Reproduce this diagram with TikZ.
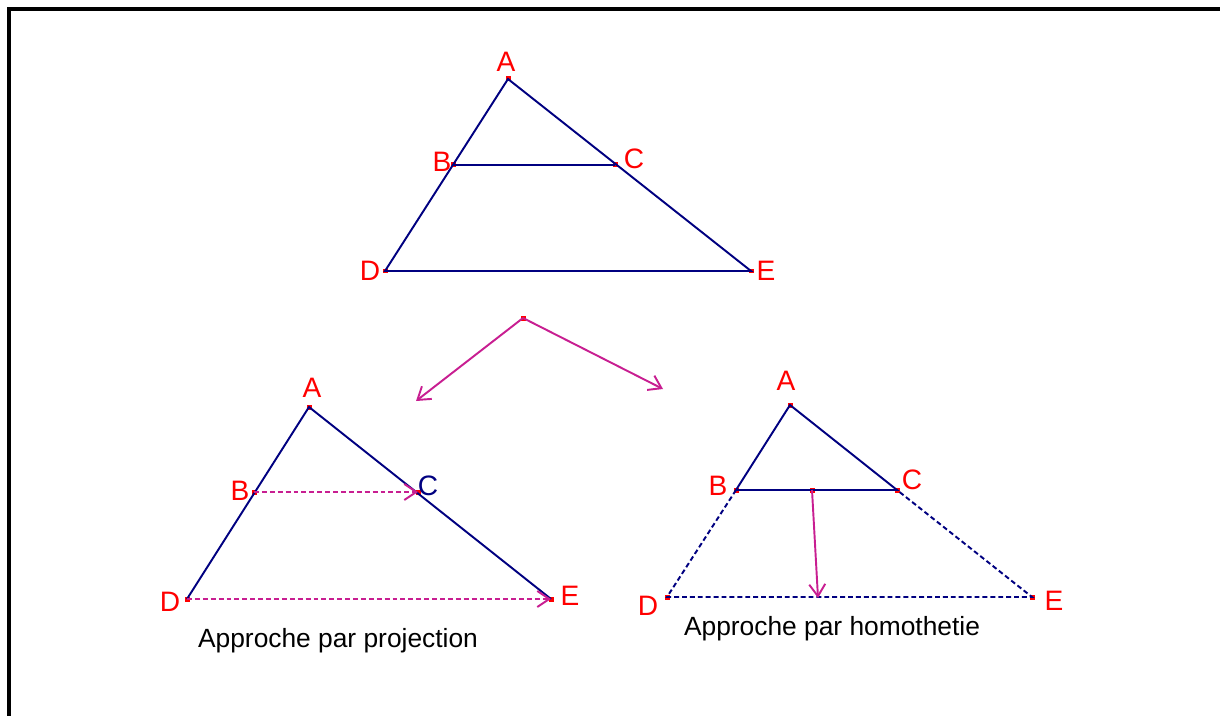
\documentclass[tikz,border=0pt]{standalone}
\usepackage{fontspec}
\setmainfont{Liberation Sans}
\usetikzlibrary{arrows.meta,positioning,calc}
\definecolor{segblue}{RGB}{0,0,128}
\definecolor{vecmag}{RGB}{200,30,145}
\definecolor{ptred}{RGB}{255,0,0}

\begin{document}
\begin{tikzpicture}[x=0.02cm,y=-0.02cm,
  pt/.style={fill=ptred, rectangle, inner sep=0pt, minimum size=0.1cm},
  lbl/.style={text=ptred, inner sep=0pt, font=\fontsize{16}{18}\selectfont},
  captxt/.style={inner sep=0pt, font=\fontsize{15}{17}\selectfont},
  seg/.style={draw=segblue, line width=1.1pt},
  segdash/.style={draw=segblue, line width=1.1pt, dash pattern=on 2.8pt off 1.7pt},
  vec/.style={draw=vecmag, line width=1.1pt, -{Straight Barb[length=2.4mm,width=3.2mm]}},
  vecdash/.style={vec, dash pattern=on 2.8pt off 1.7pt},
]
\useasboundingbox (0,0) rectangle (1220,716);
\draw[line width=2.3pt] (9,716) -- (9,9) -- (1220,9);

% triangle du haut
\node[pt] (A) at (508,79) {};
\node[pt] (B) at (453,165) {};
\node[pt] (C) at (615,165) {};
\node[pt] (D) at (385,271) {};
\node[pt] (E) at (751,271) {};
\draw[seg] (D.center) -- (A.center) -- (E.center) -- cycle;
\draw[seg] (B.center) -- (C.center);
\node[lbl] at (506,62) {A};
\node[lbl] at (442,162) {B};
\node[lbl] at (634,159) {C};
\node[lbl] at (370,271) {D};
\node[lbl] at (766,271) {E};

% les deux approches
\node[pt] (O) at (523,318) {};
\coordinate (Ol) at (416,401);
\coordinate (Or) at (663,389);
\draw[vec] (O.center) -- (Ol);
\draw[vec] (O.center) -- (Or);

% projection
\node[pt] (pA) at (309,407) {};
\node[pt] (pB) at (254,492) {};
\node[pt] (pC) at (418,492) {};
\node[pt] (pD) at (187,599) {};
\node[pt] (pE) at (551,599) {};
\draw[seg] (pD.center) -- (pA.center) -- (pE.center);
\draw[vecdash] (pB.center) -- (pC.center);
\draw[vecdash] (pD.center) -- (pE.center);
\node[lbl] at (312,388) {A};
\node[lbl] at (240,491) {B};
\node[lbl, text=segblue] at (428,486) {C};
\node[lbl] at (170,602) {D};
\node[lbl] at (570,596) {E};
\node[captxt] at (338,641) {Approche par projection};

% homothetie
\node[pt] (hA) at (790,405) {};
\node[pt] (hB) at (736,490) {};
\node[pt] (hC) at (897,490) {};
\node[pt] (hD) at (667,597) {};
\node[pt] (hE) at (1032,597) {};
\node[pt] (hM) at (812,490) {};
\coordinate (hN) at (818,598);
\draw[seg] (hB.center) -- (hA.center) -- (hC.center) -- cycle;
\draw[segdash] (hB.center) -- (hD.center) -- (hE.center) -- (hC.center);
\draw[vec] (hM.center) -- (hN);
\node[lbl] at (786,381) {A};
\node[lbl] at (718,486) {B};
\node[lbl] at (912,480) {C};
\node[lbl] at (648,606) {D};
\node[lbl] at (1054,601) {E};
\node[captxt] at (832,629) {Approche par homothetie};
\end{tikzpicture}
\end{document}
